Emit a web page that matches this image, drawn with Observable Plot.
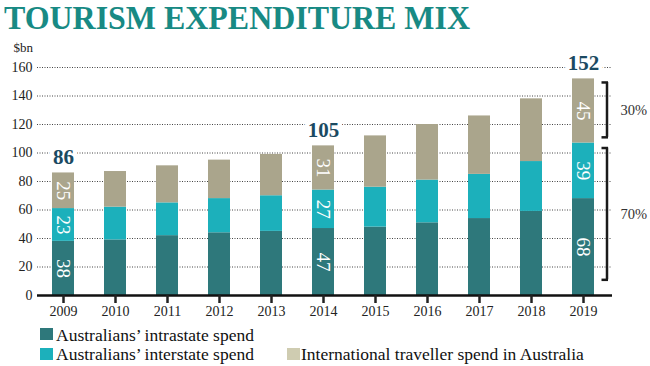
<!DOCTYPE html>
<html>
<head>
<meta charset="utf-8">
<script src="https://cdn.jsdelivr.net/npm/d3@7"></script>
<script src="https://cdn.jsdelivr.net/npm/@observablehq/plot@0.6"></script>
<style>
  html, body { margin: 0; padding: 0; background: #fff; }
  #wrap { width: 650px; height: 366px; position: relative; overflow: hidden; font-family: "Liberation Serif", serif; }
  #title { height: 40px; box-sizing: border-box; padding: 2px 0 0 4px; font-size: 33px; line-height: 33px; font-weight: bold; color: #188a84; white-space: nowrap; }
  #title span { display: inline-block; transform-origin: left center; }
  #chart { height: 282px; }
  #chart svg { display: block; }
  #legend { position: relative; height: 44px; font-size: 17.5px; color: #111; }
  .sw { position: absolute; width: 13px; height: 12px; }
  .lbl { position: absolute; line-height: 18px; white-space: nowrap; }
</style>
</head>
<body>
<div id="wrap">
  <div id="title"><span>TOURISM EXPENDITURE MIX</span></div>
  <div id="chart"></div>
  <div id="legend"></div>
</div>
<script>
// ---- data ----
const years = ["2009","2010","2011","2012","2013","2014","2015","2016","2017","2018","2019"];
const intrastate    = [38, 39, 42, 44, 45, 47, 48, 51, 54, 59, 68];
const interstate    = [23, 23, 23, 24, 25, 27, 28, 30, 31, 35, 39];
const international = [25, 25, 26, 27, 29, 31, 36, 39, 41, 44, 45];
const seriesNames = ["Australians’ intrastate spend", "Australians’ interstate spend", "International traveller spend in Australia"];
const seriesColors = ["#2e787b", "#1cb0bb", "#aaa58c"];
const legendColors = ["#2e787b", "#1cb0bb", "#cfccb1"];
const labelledYears = ["2009", "2014", "2019"];
const yTicks = [0, 20, 40, 60, 80, 100, 120, 140, 160];
const unitLabel = "$bn";
const shareLabels = ["30%", "70%"];
const shareFrom = [111, 11];
const shareTo = [149.5, 103.5];
const shareYear = "2019";

// ---- tables ----
const rows = [];
years.forEach((yr, i) => {
  [intrastate[i], interstate[i], international[i]].forEach((v, k) => rows.push({year: yr, type: seriesNames[k], value: v}));
});
const totals = years.map((yr, i) => ({year: yr, total: intrastate[i] + interstate[i] + international[i]}));
const labelRows = rows.filter(d => labelledYears.includes(d.year));
const labelTotals = totals.filter(d => labelledYears.includes(d.year));
const brackets = shareLabels.map((s, i) => ({year: shareYear, label: s, from: shareFrom[i], to: shareTo[i], mid: (shareFrom[i] + shareTo[i]) / 2}));
const bracketEnds = brackets.flatMap(b => [{year: b.year, y: b.from}, {year: b.year, y: b.to}]);

const serif = "Liberation Serif";
const chart = Plot.plot({
  width: 650,
  height: 282,
  marginLeft: 37,
  marginRight: 38,
  marginTop: 27,
  marginBottom: 27,
  style: {fontFamily: serif, fontSize: "14px", color: "#222", background: "#fff"},
  x: {type: "band", domain: years, range: [52, 594.5], paddingInner: 0.58, paddingOuter: 0, label: null},
  y: {domain: [0, 160], label: null},
  color: {domain: seriesNames, range: seriesColors},
  marks: [
    Plot.ruleY(yTicks.filter(d => d > 0), {stroke: "#444", strokeWidth: 1, strokeDasharray: "1 1.5"}),
    Plot.barY(rows, {x: "year", y: "value", fill: "type"}),
    Plot.ruleY([0], {stroke: "#111", strokeWidth: 2.5}),
    Plot.axisY({ticks: yTicks, tickSize: 0, tickPadding: 5, fontSize: 14, fontFamily: serif, fill: "#222", label: null}),
    Plot.axisX({tickSize: 8, tickPadding: 3, strokeWidth: 2.5, fontSize: 14, fontFamily: serif, fill: "#222", label: null}),
    Plot.text([unitLabel], {frameAnchor: "top-left", text: d => d, textAnchor: "start", lineAnchor: "bottom", dx: -24, dy: -16, fontSize: 13, fontFamily: serif, fill: "#222"}),
    Plot.text(labelRows, Plot.stackY({x: "year", y: "value", z: "type", text: d => String(d.value), rotate: 90, fill: "#fff", fontSize: 19, fontFamily: serif})),
    Plot.text(labelTotals, {x: "year", y: "total", text: d => String(d.total), lineAnchor: "bottom", dy: -9, fontSize: 21, fontWeight: "bold", fontFamily: serif, fill: "#1b4a62", stroke: "#fff", strokeWidth: 9, paintOrder: "stroke"}),
    Plot.ruleX(brackets, {x: "year", y1: "from", y2: "to", dx: 23.5, stroke: "#1a1a1a", strokeWidth: 2.5}),
    Plot.tickY(bracketEnds, {x: "year", y: "y", dx: 23.5, insetLeft: 6, insetRight: 9.5, stroke: "#1a1a1a", strokeWidth: 2.5}),
    Plot.text(brackets, {x: "year", y: "mid", text: "label", dx: 37, textAnchor: "start", fontSize: 14.5, fontFamily: serif, fill: "#333"})
  ]
});
document.getElementById("chart").appendChild(chart);

// ---- legend ----
const legend = document.getElementById("legend");
const legendPos = [
  {sx: 40, sy: 6.3, tx: 56, ty: 3.8},
  {sx: 40, sy: 26.3, tx: 56, ty: 23.1},
  {sx: 287, sy: 26.3, tx: 301, ty: 23.1}
];
seriesNames.forEach((name, i) => {
  const p = legendPos[i];
  const sw = document.createElement("div");
  sw.className = "sw";
  sw.style.left = p.sx + "px"; sw.style.top = p.sy + "px"; sw.style.background = legendColors[i];
  const lb = document.createElement("div");
  lb.className = "lbl";
  lb.style.left = p.tx + "px"; lb.style.top = p.ty + "px";
  lb.textContent = name;
  legend.appendChild(sw); legend.appendChild(lb);
});

// fit title width to reference
const t = document.querySelector("#title span");
const w = t.getBoundingClientRect().width;
t.style.transform = `scaleX(${466 / w})`;
</script>
</body>
</html>
